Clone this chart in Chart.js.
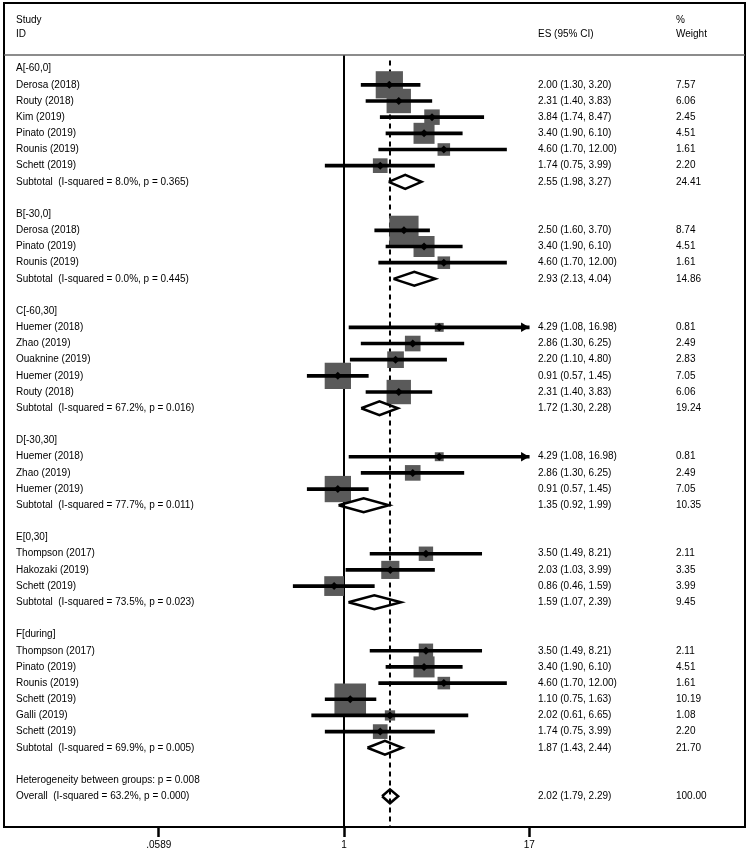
<html>
<head>
<meta charset="utf-8">
<script src="https://cdn.jsdelivr.net/npm/chart.js"></script>
<style>
  body { margin: 0; background: #fff; }
</style>
</head>
<body>
<canvas id="forest" width="750" height="853"></canvas>
<script>
// one entry per row of the plot, top to bottom
const rowLabels = [
  'A[-60,0]', 'Derosa (2018)', 'Routy (2018)', 'Kim (2019)', 'Pinato (2019)', 'Rounis (2019)', 'Schett (2019)',
  'Subtotal  (I-squared = 8.0%, p = 0.365)', '',
  'B[-30,0]', 'Derosa (2018)', 'Pinato (2019)', 'Rounis (2019)',
  'Subtotal  (I-squared = 0.0%, p = 0.445)', '',
  'C[-60,30]', 'Huemer (2018)', 'Zhao (2019)', 'Ouaknine (2019)', 'Huemer (2019)', 'Routy (2018)',
  'Subtotal  (I-squared = 67.2%, p = 0.016)', '',
  'D[-30,30]', 'Huemer (2018)', 'Zhao (2019)', 'Huemer (2019)',
  'Subtotal  (I-squared = 77.7%, p = 0.011)', '',
  'E[0,30]', 'Thompson (2017)', 'Hakozaki (2019)', 'Schett (2019)',
  'Subtotal  (I-squared = 73.5%, p = 0.023)', '',
  'F[during]', 'Thompson (2017)', 'Pinato (2019)', 'Rounis (2019)', 'Schett (2019)', 'Galli (2019)', 'Schett (2019)',
  'Subtotal  (I-squared = 69.9%, p = 0.005)', '',
  'Heterogeneity between groups: p = 0.008',
  'Overall  (I-squared = 63.2%, p = 0.000)'
];
const es = [
  null, 2.00, 2.31, 3.84, 3.40, 4.60, 1.74, 2.55, null,
  null, 2.50, 3.40, 4.60, 2.93, null,
  null, 4.29, 2.86, 2.20, 0.91, 2.31, 1.72, null,
  null, 4.29, 2.86, 0.91, 1.35, null,
  null, 3.50, 2.03, 0.86, 1.59, null,
  null, 3.50, 3.40, 4.60, 1.10, 2.02, 1.74, 1.87, null,
  null, 2.02
];
const lo = [
  null, 1.30, 1.40, 1.74, 1.90, 1.70, 0.75, 1.98, null,
  null, 1.60, 1.90, 1.70, 2.13, null,
  null, 1.08, 1.30, 1.10, 0.57, 1.40, 1.30, null,
  null, 1.08, 1.30, 0.57, 0.92, null,
  null, 1.49, 1.03, 0.46, 1.07, null,
  null, 1.49, 1.90, 1.70, 0.75, 0.61, 0.75, 1.43, null,
  null, 1.79
];
const hi = [
  null, 3.20, 3.83, 8.47, 6.10, 12.00, 3.99, 3.27, null,
  null, 3.70, 6.10, 12.00, 4.04, null,
  null, 16.98, 6.25, 4.80, 1.45, 3.83, 2.28, null,
  null, 16.98, 6.25, 1.45, 1.99, null,
  null, 8.21, 3.99, 1.59, 2.39, null,
  null, 8.21, 6.10, 12.00, 1.63, 6.65, 3.99, 2.44, null,
  null, 2.29
];
const weight = [
  null, 7.57, 6.06, 2.45, 4.51, 1.61, 2.20, 24.41, null,
  null, 8.74, 4.51, 1.61, 14.86, null,
  null, 0.81, 2.49, 2.83, 7.05, 6.06, 19.24, null,
  null, 0.81, 2.49, 7.05, 10.35, null,
  null, 2.11, 3.35, 3.99, 9.45, null,
  null, 2.11, 4.51, 1.61, 10.19, 1.08, 2.20, 21.70, null,
  null, 100.00
];
const axisTicks = [0.0589, 1, 17];
const tickLabels = ['.0589', '1', '17'];
const nullValue = 1;
const overallES = 2.02;

// layout: where 1 and 17 fall on the page, and the frame edges
const areaLeft = 4, areaRight = 745;
const onePx = 344, seventeenPx = 529.3;
const decadePx = (seventeenPx - onePx) / Math.log10(17);
const xMin = Math.pow(10, (areaLeft - onePx) / decadePx);
const xMax = Math.pow(10, (areaRight - onePx) / decadePx);
const yTop = -4.06, yBottom = 46.9;
const labelX = 16, esX = 538, weightX = 676;
const arrowR = 5.5;

const isPooled = rowLabels.map(l => l.startsWith('Subtotal') || l.startsWith('Overall'));
const rows = rowLabels.map((l, i) => i);
const studyRows = rows.filter(i => es[i] !== null && !isPooled[i]);
const pooledRows = rows.filter(i => isPooled[i]);
const axisEnd = axisTicks[axisTicks.length - 1];

const ciData = studyRows.map(i => ({x: [lo[i], Math.min(hi[i], axisEnd)], y: i}));
const boxData = studyRows.map(i => ({x: es[i], y: i, w: weight[i]}));
const pointData = studyRows.map(i => ({x: es[i], y: i}));
// arrowheads for intervals running to the last tick, tip placed at that tick
const arrowData = studyRows.filter(i => hi[i] >= axisEnd * 0.99)
  .map(i => ({x: axisEnd * Math.pow(10, -arrowR / decadePx), y: i}));

const dh = 0.43;
const diamondData = [];
pooledRows.forEach(i => {
  diamondData.push({x: lo[i], y: i}, {x: es[i], y: i - dh}, {x: hi[i], y: i},
                   {x: es[i], y: i + dh}, {x: lo[i], y: i}, {x: null, y: null});
});

const textPlugin = {
  id: 'forestText',
  afterDraw(chart) {
    const ctx = chart.ctx;
    const a = chart.chartArea;
    const ys = chart.scales.y;
    ctx.save();
    // frame
    ctx.strokeStyle = '#000';
    ctx.lineWidth = 2;
    ctx.strokeRect(a.left, a.top, a.right - a.left, a.bottom - a.top);
    // header separator
    ctx.strokeStyle = '#666';
    ctx.lineWidth = 1.5;
    const sy = ys.getPixelForValue(-0.85);
    ctx.beginPath(); ctx.moveTo(a.left, sy); ctx.lineTo(a.right, sy); ctx.stroke();

    ctx.fillStyle = '#000';
    ctx.font = '10px "Liberation Sans", Arial, sans-serif';
    ctx.textBaseline = 'middle';
    ctx.textAlign = 'left';
    const h1 = ys.getPixelForValue(-3.0), h2 = ys.getPixelForValue(-2.1);
    ctx.fillText('Study', labelX, h1);
    ctx.fillText('ID', labelX, h2);
    ctx.fillText('ES (95% CI)', esX, h2);
    ctx.fillText('%', weightX, h1);
    ctx.fillText('Weight', weightX, h2);

    rows.forEach(i => {
      const y = ys.getPixelForValue(i);
      ctx.fillText(rowLabels[i], labelX, y);
      if (es[i] !== null) {
        ctx.fillText(es[i].toFixed(2) + ' (' + lo[i].toFixed(2) + ', ' + hi[i].toFixed(2) + ')', esX, y);
        ctx.fillText(weight[i].toFixed(2), weightX, y);
      }
    });
    ctx.restore();
  }
};

Chart.defaults.font.family = '"Liberation Sans", Arial, sans-serif';
Chart.defaults.font.size = 10;
Chart.defaults.color = '#000';

new Chart(document.getElementById('forest').getContext('2d'), {
  type: 'scatter',
  data: {
    datasets: [
      {
        type: 'line', order: 5,
        data: [{x: nullValue, y: -0.85}, {x: nullValue, y: yBottom}],
        borderColor: '#000', borderWidth: 2, pointRadius: 0
      },
      {
        type: 'line', order: 5,
        data: [{x: overallES, y: -0.5}, {x: overallES, y: yBottom}],
        borderColor: '#000', borderWidth: 2, borderDash: [5, 4], pointRadius: 0
      },
      {
        type: 'scatter', order: 4,
        data: boxData,
        pointStyle: 'rect',
        pointRadius: c => 7.0 * Math.sqrt(c.raw.w),
        backgroundColor: '#5a5a5a', borderWidth: 0
      },
      {
        type: 'bar', order: 3, indexAxis: 'y',
        data: ciData,
        backgroundColor: '#000', barThickness: 3, borderWidth: 0, grouped: false
      },
      {
        type: 'scatter', order: 2,
        data: arrowData,
        pointStyle: 'triangle', rotation: 90, pointRadius: arrowR,
        backgroundColor: '#000', borderWidth: 0
      },
      {
        type: 'scatter', order: 1,
        data: pointData,
        pointStyle: 'rectRot', pointRadius: 4,
        backgroundColor: '#000', borderWidth: 0
      },
      {
        type: 'line', order: 1,
        data: diamondData,
        borderColor: '#000', borderWidth: 2.5, borderJoinStyle: 'miter',
        pointRadius: 0, fill: false, tension: 0, spanGaps: false
      }
    ]
  },
  options: {
    responsive: false,
    animation: false,
    events: [],
    layout: { autoPadding: false, padding: { left: areaLeft, right: 750 - areaRight, top: 3, bottom: 0 } },
    plugins: { legend: { display: false }, tooltip: { enabled: false } },
    scales: {
      x: {
        type: 'logarithmic',
        position: 'bottom',
        min: xMin, max: xMax,
        offset: false,
        afterBuildTicks: s => { s.ticks = axisTicks.map(v => ({value: v})); },
        afterFit: s => { s.height = 26; s.paddingLeft = 0; s.paddingRight = 0; },
        ticks: {
          autoSkip: false, maxRotation: 0, padding: 2,
          callback: (v, i) => tickLabels[i],
          font: { size: 10 }, color: '#000'
        },
        grid: {
          drawOnChartArea: false, drawTicks: true, tickLength: 10,
          tickWidth: 2.5, tickColor: '#000', offset: false
        },
        border: { display: false }
      },
      y: {
        type: 'linear',
        reverse: true,
        min: yTop, max: yBottom,
        offset: false,
        display: false,
        grid: { offset: false }
      }
    }
  },
  plugins: [textPlugin]
});
</script>
</body>
</html>
